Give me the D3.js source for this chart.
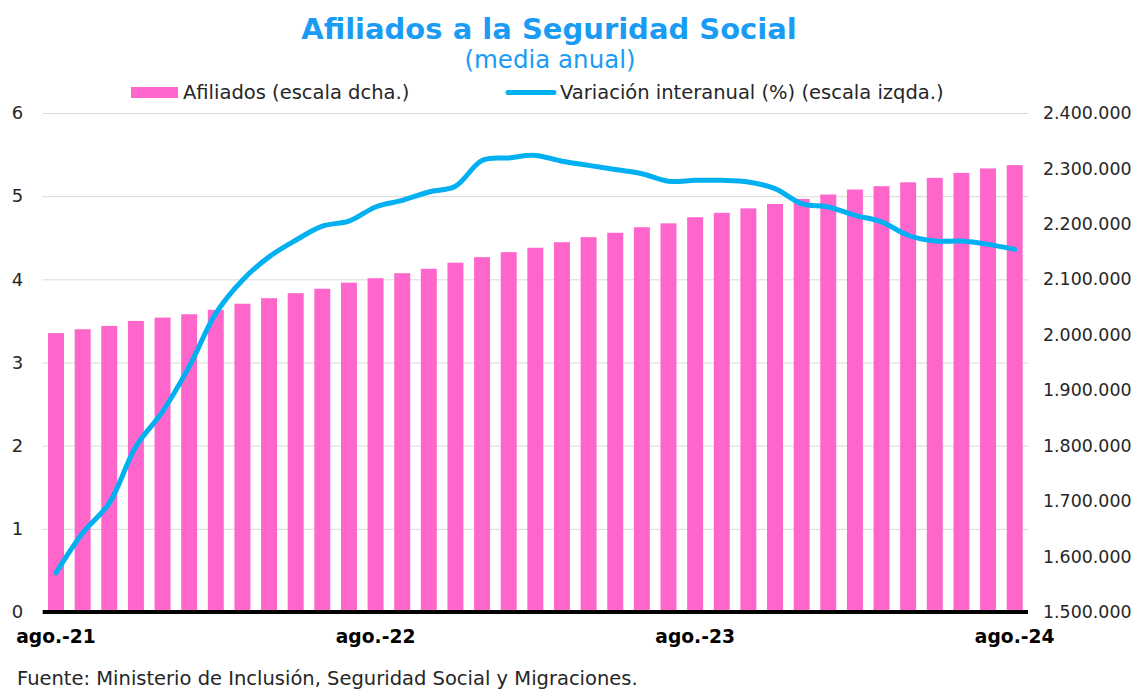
<!DOCTYPE html>
<html>
<head>
<meta charset="utf-8">
<script src="https://cdn.jsdelivr.net/npm/d3@7.9.0/dist/d3.min.js"></script>
<style>
  body { margin: 0; background: #fff; }
  svg text { font-family: "DejaVu Sans", Verdana, sans-serif; }
</style>
</head>
<body>
<svg id="chart" width="1137" height="690"></svg>
<script>
// meses ago.-21 ... ago.-24
const months = ['ago.-21','sep.-21','oct.-21','nov.-21','dic.-21','ene.-22','feb.-22','mar.-22','abr.-22','may.-22','jun.-22','jul.-22',
  'ago.-22','sep.-22','oct.-22','nov.-22','dic.-22','ene.-23','feb.-23','mar.-23','abr.-23','may.-23','jun.-23','jul.-23',
  'ago.-23','sep.-23','oct.-23','nov.-23','dic.-23','ene.-24','feb.-24','mar.-24','abr.-24','may.-24','jun.-24','jul.-24','ago.-24'];

const afiliados = [2003000, 2010000, 2016000, 2025000, 2031000, 2037000, 2045000, 2056000, 2066000, 2075000, 2083000, 2094000,
  2102000, 2111000, 2119000, 2130000, 2140000, 2149000, 2157000, 2167000, 2176000, 2184000, 2194000, 2201000,
  2212000, 2220000, 2228000, 2236000, 2245000, 2253000, 2262000, 2268000, 2275000, 2283000, 2292000, 2300000, 2306000];

const variacion = [0.47, 0.95, 1.31, 1.99, 2.41, 2.95, 3.59, 3.99, 4.27, 4.47, 4.64, 4.70,
  4.87, 4.95, 5.05, 5.12, 5.43, 5.46, 5.49, 5.42, 5.37, 5.32, 5.27, 5.18,
  5.19, 5.19, 5.17, 5.09, 4.91, 4.87, 4.77, 4.69, 4.53, 4.46, 4.46, 4.42, 4.36];

const leftTicks = [0, 1, 2, 3, 4, 5, 6];
const rightTicks = [1500000, 1600000, 1700000, 1800000, 1900000, 2000000, 2100000, 2200000, 2300000, 2400000];
const xLabels = ['ago.-21', 'ago.-22', 'ago.-23', 'ago.-24'];

const svg = d3.select('#chart');
const plotL = 42.7, plotR = 1028, plotT = 113, plotB = 612;

const x = d3.scaleBand().domain(months).range([plotL, plotR]).paddingInner(0.4).paddingOuter(0.2);
const yL = d3.scaleLinear().domain([0, 6]).range([plotB, plotT]);
const yR = d3.scaleLinear().domain([1500000, 2400000]).range([plotB, plotT]);

const fmt = d3.formatLocale({ decimal: ',', thousands: '.', grouping: [3], currency: ['', '€'] }).format(',.0f');

// rejilla
svg.append('g')
  .attr('transform', `translate(${plotL},0)`)
  .call(d3.axisLeft(yL).tickValues(leftTicks).tickSize(-(plotR - plotL)).tickFormat(''))
  .call(g => g.select('.domain').remove())
  .call(g => g.selectAll('line').attr('stroke', '#d9d9d9').attr('stroke-width', 1));

// barras
svg.append('g').selectAll('rect')
  .data(afiliados)
  .join('rect')
  .attr('x', (d, i) => x(months[i]))
  .attr('width', x.bandwidth())
  .attr('y', d => yR(d))
  .attr('height', d => plotB - yR(d))
  .attr('fill', '#ff66cc');

// eje base
svg.append('line')
  .attr('x1', plotL).attr('x2', plotR)
  .attr('y1', plotB).attr('y2', plotB)
  .attr('stroke', '#000').attr('stroke-width', 4);

// línea
const line = d3.line()
  .x((d, i) => x(months[i]) + x.bandwidth() / 2)
  .y(d => yL(d))
  .curve(d3.curveCatmullRom.alpha(0.5));

svg.append('path')
  .datum(variacion)
  .attr('d', line)
  .attr('fill', 'none')
  .attr('stroke', '#00b0f0')
  .attr('stroke-width', 5)
  .attr('stroke-linecap', 'round');

// eje izquierdo
svg.append('g')
  .attr('transform', `translate(${plotL},0)`)
  .call(d3.axisLeft(yL).tickValues(leftTicks).tickSize(0).tickFormat(d3.format('d')))
  .call(g => g.select('.domain').remove())
  .call(g => g.selectAll('text').attr('fill', '#262626').style('font-size', '18px').attr('text-anchor', 'start').attr('x', -31));

// eje derecho
svg.append('g')
  .attr('transform', `translate(${plotR},0)`)
  .call(d3.axisRight(yR).tickValues(rightTicks).tickSize(0).tickPadding(15).tickFormat(fmt))
  .call(g => g.select('.domain').remove())
  .call(g => g.selectAll('text').attr('fill', '#262626').style('font-size', '17.4px'));

// eje x
svg.append('g')
  .attr('transform', `translate(0,${plotB})`)
  .call(d3.axisBottom(x).tickValues(xLabels).tickSize(0).tickPadding(18))
  .call(g => g.select('.domain').remove())
  .call(g => g.selectAll('text').attr('fill', '#000').style('font-size', '18.7px').style('font-weight', 'bold'));

// títulos
svg.append('text')
  .attr('x', 549).attr('y', 39)
  .attr('text-anchor', 'middle')
  .attr('fill', '#1a9cf5')
  .style('font-size', '29px').style('font-weight', 'bold')
  .text('Afiliados a la Seguridad Social');

svg.append('text')
  .attr('x', 550).attr('y', 68)
  .attr('text-anchor', 'middle')
  .attr('fill', '#1a9cf5')
  .style('font-size', '24.5px')
  .text('(media anual)');

// leyenda
const leg = svg.append('g').style('font-size', '19.5px').attr('fill', '#262626');
leg.append('rect').attr('x', 131).attr('y', 87).attr('width', 47).attr('height', 11).attr('fill', '#ff66cc');
leg.append('text').attr('x', 183).attr('y', 99).text('Afiliados (escala dcha.)');
leg.append('line').attr('x1', 508).attr('x2', 554).attr('y1', 92.5).attr('y2', 92.5)
  .attr('stroke', '#00b0f0').attr('stroke-width', 5).attr('stroke-linecap', 'round');
leg.append('text').attr('x', 560).attr('y', 99).text('Variación interanual (%) (escala izqda.)');

// fuente
svg.append('text')
  .attr('x', 17).attr('y', 685)
  .attr('fill', '#262626')
  .style('font-size', '19.5px')
  .text('Fuente: Ministerio de Inclusión, Seguridad Social y Migraciones.');
</script>
</body>
</html>
